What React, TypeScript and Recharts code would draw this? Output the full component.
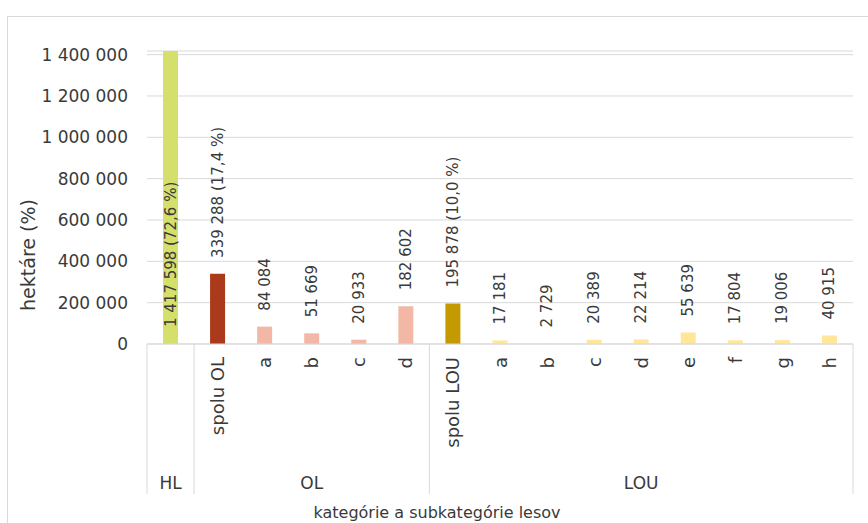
import React from 'react';
import { BarChart, Bar, Cell, XAxis, YAxis, CartesianGrid, LabelList } from 'recharts';

const categories = ['HL', 'spolu OL', 'a', 'b', 'c', 'd', 'spolu LOU', 'a', 'b', 'c', 'd', 'e', 'f', 'g', 'h'];
const groups = ['HL', 'OL', 'OL', 'OL', 'OL', 'OL', 'LOU', 'LOU', 'LOU', 'LOU', 'LOU', 'LOU', 'LOU', 'LOU', 'LOU'];
const hectares = [1417598, 339288, 84084, 51669, 20933, 182602, 195878, 17181, 2729, 20389, 22214, 55639, 17804, 19006, 40915];
const shares: (string | null)[] = ['72,6', '17,4', null, null, null, null, '10,0', null, null, null, null, null, null, null, null];
const yTicks = [0, 200000, 400000, 600000, 800000, 1000000, 1200000, 1400000];

const COLORS = [
  '#d4e06b', '#ab3a1c', '#f2b8a5', '#f2b8a5', '#f2b8a5', '#f2b8a5',
  '#c49a00', '#ffe699', '#ffe699', '#ffe699', '#ffe699', '#ffe699', '#ffe699', '#ffe699', '#ffe699'
];

const FONT = '"DejaVu Sans", sans-serif';
const TEXT = '#3a3a3a';
const WIDTH = 868;
const HEIGHT = 523;
const MARGIN = { top: 51, right: 15, left: 47, bottom: 28 };
const Y_AXIS_W = 100;
const X_AXIS_H = 151;
const PLOT_W = WIDTH - MARGIN.left - MARGIN.right - Y_AXIS_W;
const BAND = PLOT_W / categories.length;

const fmt = (v: number) => String(v).replace(/\B(?=(\d{3})+(?!\d))/g, ' ');

const data = categories.map((name, i) => ({
  name,
  value: hectares[i],
  label: shares[i] ? `${fmt(hectares[i])} (${shares[i]} %)` : fmt(hectares[i]),
}));

// first index and middle index of each group on the multi-level axis
const groupStart = (i: number) => i === 0 || groups[i] !== groups[i - 1];
const groupMiddle = (i: number) => {
  const first = groups.indexOf(groups[i]);
  const last = groups.lastIndexOf(groups[i]);
  return i === Math.floor((first + last) / 2);
};

const CategoryTick = (props: any) => {
  const { x, y, payload, index } = props;
  const i = index ?? payload.index;
  const ty = y + 13;
  return (
    <g>
      {i !== 0 && (
        <text
          x={x}
          y={ty}
          transform={`rotate(-90 ${x} ${ty})`}
          textAnchor="end"
          dominantBaseline="central"
          fontSize={18}
          fontFamily={FONT}
          fill={TEXT}
        >
          {payload.value}
        </text>
      )}
      {groupStart(i) && <line x1={x - BAND / 2} x2={x - BAND / 2} y1={y} y2={y + 150} stroke="#d9d9d9" />}
      {i === categories.length - 1 && <line x1={x + BAND / 2} x2={x + BAND / 2} y1={y} y2={y + 150} stroke="#d9d9d9" />}
      {groupMiddle(i) && (
        <text x={x} y={y + 139} textAnchor="middle" dominantBaseline="central" fontSize={17} fontFamily={FONT} fill={TEXT}>
          {groups[i]}
        </text>
      )}
    </g>
  );
};

const BarLabel = (props: any) => {
  const { x, y, width, height, value, index } = props;
  const cx = x + width / 2;
  const ay = index === 0 ? y + height - 17 : y - 16;
  return (
    <text
      x={cx}
      y={ay}
      transform={`rotate(-90 ${cx} ${ay})`}
      textAnchor="start"
      dominantBaseline="central"
      fontSize={15}
      fontFamily={FONT}
      fill={TEXT}
    >
      {value}
    </text>
  );
};

export default function App() {
  return (
    <div style={{ position: 'absolute', left: 0, top: 0, width: WIDTH, height: HEIGHT, overflow: 'hidden', background: '#fff', fontFamily: FONT }}>
      <div style={{ position: 'absolute', left: 7, top: 16, width: 900, height: 540, border: '1px solid #d9d9d9' }} />
      <div style={{ position: 'absolute', left: 0, top: 0 }}>
        <BarChart width={WIDTH} height={HEIGHT} data={data} margin={MARGIN}>
          <CartesianGrid vertical={false} stroke="#d9d9d9" />
          <XAxis
            dataKey="name"
            interval={0}
            height={X_AXIS_H}
            tickLine={false}
            tickSize={0}
            tickMargin={0}
            axisLine={{ stroke: '#d9d9d9' }}
            tick={<CategoryTick />}
          />
          <YAxis
            width={Y_AXIS_W}
            domain={[0, 1400000]}
            ticks={yTicks}
            tickFormatter={fmt}
            axisLine={false}
            tickLine={false}
            tickSize={0}
            tickMargin={19}
            tick={{ fontSize: 17, fontFamily: FONT, fill: TEXT }}
          />
          <Bar dataKey="value" barSize={15} isAnimationActive={false}>
            {data.map((_, i) => (
              <Cell key={`cell-${i}`} fill={COLORS[i]} />
            ))}
            <LabelList dataKey="label" content={<BarLabel />} />
          </Bar>
        </BarChart>
      </div>
      <div
        style={{
          position: 'absolute', left: 28, top: 255, transform: 'translate(-50%, -50%) rotate(-90deg)',
          whiteSpace: 'nowrap', fontSize: 19, color: TEXT
        }}
      >
        hektáre (%)
      </div>
      <div
        style={{
          position: 'absolute', left: 437, top: 512, transform: 'translate(-50%, -50%)',
          whiteSpace: 'nowrap', fontSize: 16, color: TEXT
        }}
      >
        kategórie a subkategórie lesov
      </div>
    </div>
  );
}
